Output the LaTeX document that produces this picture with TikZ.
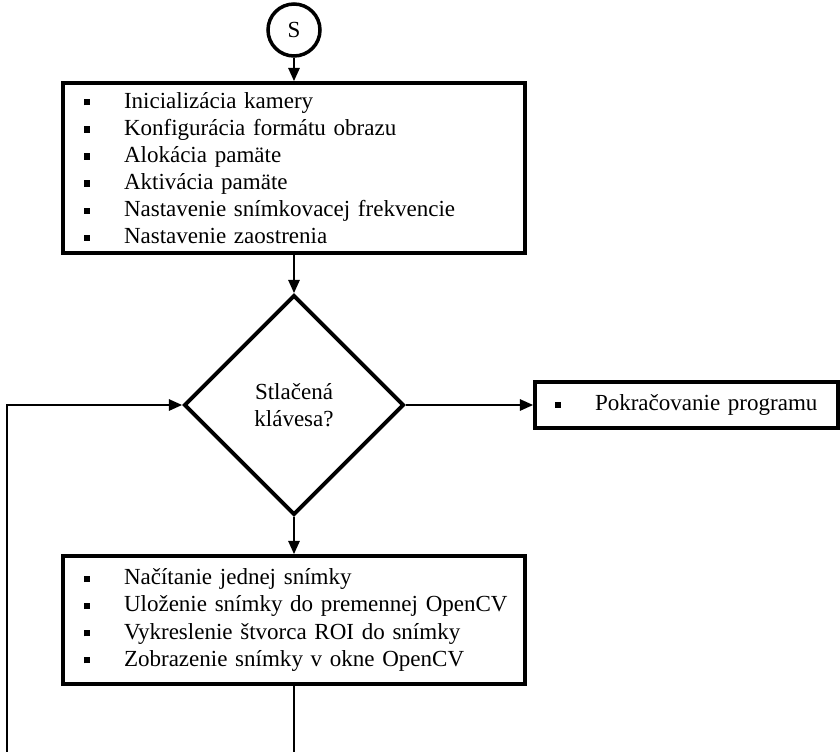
\documentclass[tikz,border=0pt]{standalone}
\usepackage{fontspec}
\setmainfont{Liberation Serif}
\usetikzlibrary{shapes.geometric,arrows.meta}
\newcommand{\bul}[1]{\makebox[0.8cm][l]{\rule[0.12em]{0.27em}{0.27em}}\mbox{#1}}

\begin{document}
\begin{tikzpicture}[
      font=\fontsize{13.1}{15.4}\selectfont,
      start/.style={circle, draw, line width=2pt, minimum size=1.04cm, inner sep=0pt},
      box/.style={rectangle, draw, line width=2.2pt, align=left, inner xsep=0.42cm, inner ysep=0pt, text width=8.4cm},
      decision/.style={diamond, draw, line width=2.2pt, minimum width=4.4cm, minimum height=4.4cm, inner sep=0pt, align=center},
      arrow/.style={-{Triangle[length=7.5pt,width=6.5pt]}, line width=0.9pt},
      line/.style={line width=0.9pt}
  ]
  \useasboundingbox (0,0) rectangle (16.8,-15.04);

  % Nodes
  \node[start] (start) at (5.88,-0.60) {S};
  \node[box, minimum height=3.4cm] (init) at (5.88,-3.36) {\bul{Inicializácia kamery}\\\bul{Konfigurácia formátu obrazu}\\\bul{Alokácia pamäte}\\\bul{Aktivácia pamäte}\\\bul{Nastavenie snímkovacej frekvencie}\\\bul{Nastavenie zaostrenia}};
  \node[decision] (key) at (5.88,-8.10) {Stlačená\\klávesa?};
  \node[box, text width=5.26cm, inner xsep=0.4cm, minimum height=0.92cm] (cont) at (13.73,-8.10) {\bul{Pokračovanie programu}};
  \node[box, minimum height=2.56cm] (frame) at (5.88,-12.40) {\bul{Načítanie jednej snímky}\\\bul{Uloženie snímky do premennej OpenCV}\\\bul{Vykreslenie štvorca ROI do snímky}\\\bul{Zobrazenie snímky v okne OpenCV}};

  % Loop ends (cut at the bottom edge)
  \coordinate (loopend) at (0.14,-15.04);
  \coordinate (frameend) at (5.88,-15.04);

  % Arrows
  \draw[arrow] (start) -- (init);
  \draw[arrow] (init) -- (key);
  \draw[arrow] (key) -- (cont);
  \draw[arrow] (key) -- (frame);
  \draw[line] (frame) -- (frameend);
  \draw[arrow] (loopend) |- (key.west);

\end{tikzpicture}
\end{document}
